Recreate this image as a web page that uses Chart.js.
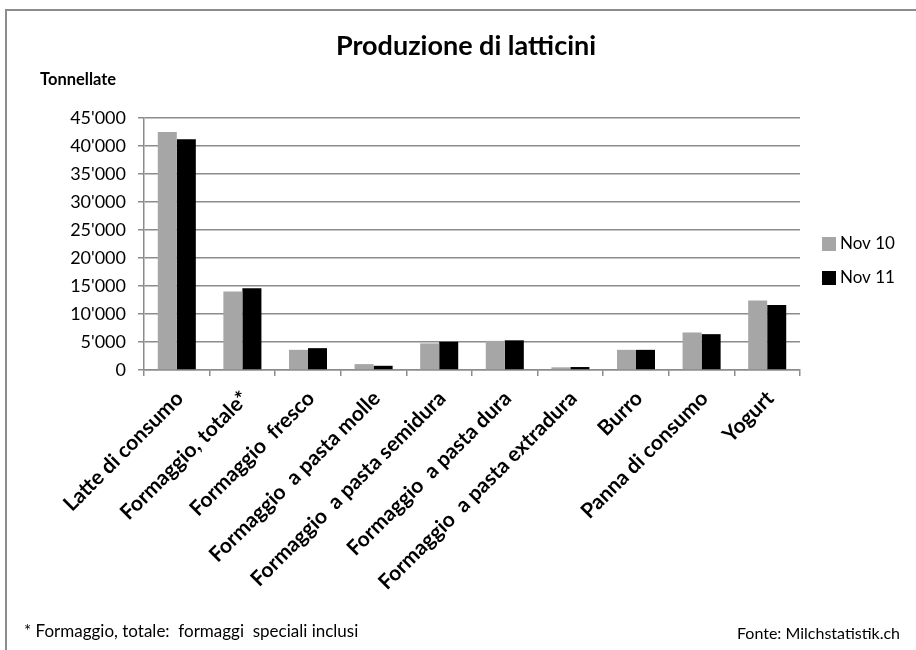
<!DOCTYPE html>
<html>
<head>
<meta charset="utf-8">
<script src="https://cdn.jsdelivr.net/npm/chart.js@4.4.1/dist/chart.umd.min.js"></script>
<style>
  html, body { margin: 0; padding: 0; background: #fff; }
  #wrap { width: 916px; height: 650px; }
</style>
</head>
<body>
<div id="wrap"><canvas id="dairyChart" width="916" height="650"></canvas></div>
<script>
// Produzione di latticini, tonnellate
const categories = [
  "Latte di consumo", "Formaggio, totale*", "Formaggio  fresco", "Formaggio  a pasta molle",
  "Formaggio  a pasta semidura", "Formaggio  a pasta dura", "Formaggio  a pasta extradura",
  "Burro", "Panna di consumo", "Yogurt"
];
const nov10 = [42500, 14000, 3600, 1050, 4750, 5200, 480, 3600, 6700, 12400];
const nov11 = [41200, 14600, 3900, 750, 5050, 5300, 530, 3600, 6400, 11600];
const yTicks = [0, 5000, 10000, 15000, 20000, 25000, 30000, 35000, 40000, 45000];

const FONT = "Lato, 'Open Sans', sans-serif";

function formatTons(v) {
    // swiss style thousands separator
    return String(v).replace(/\B(?=(\d{3})+(?!\d))/g, "'");
}

// title, axis caption, legend, footnotes and frame
const decorations = {
    id: 'decorations',
    beforeDraw(chart) {
        const ctx = chart.ctx;
        ctx.save();
        ctx.fillStyle = '#fff';
        ctx.fillRect(0, 0, chart.width, chart.height);
        ctx.strokeStyle = '#8c8c8c';
        ctx.lineWidth = 2;
        ctx.strokeRect(6, 10, 930, 660);
        ctx.restore();
    },
    afterDraw(chart) {
        const ctx = chart.ctx;
        ctx.save();
        ctx.fillStyle = '#000';
        ctx.textBaseline = 'middle';

        ctx.font = "bold 27px " + FONT;
        ctx.textAlign = 'center';
        ctx.fillText("Produzione di latticini", 466, 46);

        ctx.font = "bold 16.5px " + FONT;
        ctx.textAlign = 'left';
        ctx.fillText("Tonnellate", 40, 80);

        // legend
        ctx.font = "17px " + FONT;
        chart.data.datasets.forEach((ds, i) => {
            const y = 244 + i * 34;
            ctx.fillStyle = ds.backgroundColor;
            ctx.fillRect(822, y - 7, 14, 14);
            ctx.fillStyle = '#000';
            ctx.fillText(ds.label, 840, y);
        });

        ctx.font = "17px " + FONT;
        ctx.fillText("* Formaggio, totale:  formaggi  speciali inclusi", 24, 632);
        ctx.font = "16px " + FONT;
        ctx.textAlign = 'right';
        ctx.fillText("Fonte: Milchstatistik.ch", 900, 634);
        ctx.restore();
    }
};

const chartCanvas = document.getElementById('dairyChart').getContext('2d');
const chart = new Chart(chartCanvas, {
    type: 'bar',
    data: {
        labels: categories,
        datasets: [{
            label: 'Nov 10',
            data: nov10,
            backgroundColor: '#a6a6a6',
            borderWidth: 0,
            categoryPercentage: 0.58,
            barPercentage: 1
        }, {
            label: 'Nov 11',
            data: nov11,
            backgroundColor: '#000000',
            borderWidth: 0,
            categoryPercentage: 0.58,
            barPercentage: 1
        }]
    },
    options: {
        responsive: false,
        animation: false,
        layout: {
            padding: { top: 118, left: 0, right: 116, bottom: 0 }
        },
        plugins: {
            legend: { display: false },
            title: { display: false },
            tooltip: { enabled: false }
        },
        scales: {
            x: {
                afterFit: (scale) => { scale.height = 280; },
                grid: {
                    offset: true,
                    drawOnChartArea: false,
                    drawTicks: true,
                    tickLength: 6,
                    color: '#8c8c8c',
                    lineWidth: 1.5
                },
                border: { color: '#8c8c8c', width: 1.5 },
                ticks: {
                    autoSkip: false,
                    minRotation: 45,
                    maxRotation: 45,
                    padding: 10,
                    labelOffset: 3,
                    color: '#000',
                    font: { family: FONT, size: 21, weight: 'bold' }
                }
            },
            y: {
                min: 0,
                max: 45000,
                afterFit: (scale) => { scale.width = 144; },
                afterBuildTicks: (scale) => { scale.ticks = yTicks.map(v => ({ value: v })); },
                grid: {
                    drawTicks: true,
                    tickLength: 6,
                    color: '#8c8c8c',
                    lineWidth: 1.5
                },
                border: { color: '#8c8c8c', width: 1.5 },
                ticks: {
                    padding: 12,
                    color: '#000',
                    font: { family: FONT, size: 18 },
                    callback: (v) => formatTons(v)
                }
            }
        }
    },
    plugins: [decorations]
});
</script>
</body>
</html>
